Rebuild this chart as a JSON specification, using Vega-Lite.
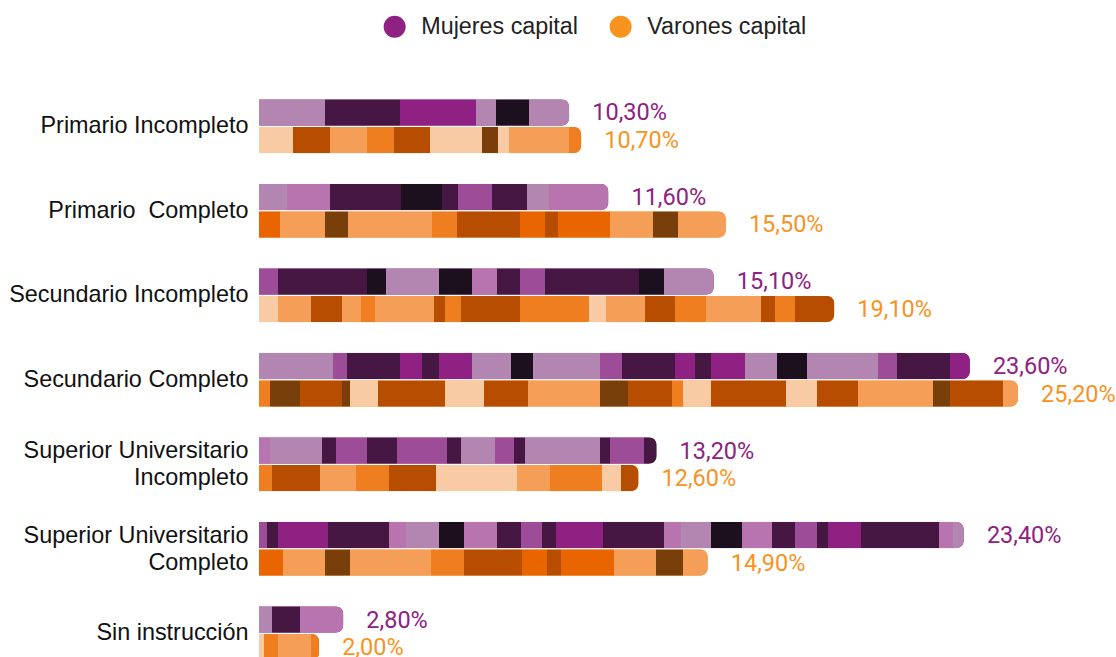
{"$schema":"https://vega.github.io/schema/vega-lite/v6.json","width":857,"height":591.5,"autosize":"none","padding":{"left":259,"top":84,"right":0,"bottom":0},"background":"white","config":{"view":{"stroke":null}},
"data":{"values":[
{"bar":1,"nivel":"Primario Incompleto","serie":"Mujeres capital","valor":10.3,"etiqueta":"10,30%"},
{"bar":2,"nivel":"Primario Incompleto","serie":"Varones capital","valor":10.7,"etiqueta":"10,70%"},
{"bar":3,"nivel":"Primario  Completo","serie":"Mujeres capital","valor":11.6,"etiqueta":"11,60%"},
{"bar":4,"nivel":"Primario  Completo","serie":"Varones capital","valor":15.5,"etiqueta":"15,50%"},
{"bar":5,"nivel":"Secundario Incompleto","serie":"Mujeres capital","valor":15.1,"etiqueta":"15,10%"},
{"bar":6,"nivel":"Secundario Incompleto","serie":"Varones capital","valor":19.1,"etiqueta":"19,10%"},
{"bar":7,"nivel":"Secundario Completo","serie":"Mujeres capital","valor":23.6,"etiqueta":"23,60%"},
{"bar":8,"nivel":"Secundario Completo","serie":"Varones capital","valor":25.2,"etiqueta":"25,20%"},
{"bar":9,"nivel":"Superior Universitario Incompleto","serie":"Mujeres capital","valor":13.2,"etiqueta":"13,20%"},
{"bar":10,"nivel":"Superior Universitario Incompleto","serie":"Varones capital","valor":12.6,"etiqueta":"12,60%"},
{"bar":11,"nivel":"Superior Universitario Completo","serie":"Mujeres capital","valor":23.4,"etiqueta":"23,40%"},
{"bar":12,"nivel":"Superior Universitario Completo","serie":"Varones capital","valor":14.9,"etiqueta":"14,90%"},
{"bar":13,"nivel":"Sin instrucción","serie":"Mujeres capital","valor":2.8,"etiqueta":"2,80%"},
{"bar":14,"nivel":"Sin instrucción","serie":"Varones capital","valor":2.0,"etiqueta":"2,00%"}
]},
"encoding":{
"y":{"field":"nivel","type":"nominal","sort":null,"scale":{"paddingInner":0.361,"paddingOuter":0.18},"axis":{"title":null,"domain":false,"ticks":false,"labelFont":"Liberation Sans","labelFontSize":23.4,"labelColor":"#111111","labelPadding":11,"labelLimit":300,"labelLineHeight":27,"labelOffset":{"condition":{"test":"indexof(datum.value,'Superior')==0","value":-13},"value":0},"labelExpr":"datum.value=='Superior Universitario Incompleto'?['Superior Universitario','Incompleto']:datum.value=='Superior Universitario Completo'?['Superior Universitario','Completo']:datum.value=='Primario  Completo'?'Primario\u00a0 Completo':datum.value"}},
"yOffset":{"field":"serie","type":"nominal","scale":{"paddingInner":0.037,"paddingOuter":0}},
"x":{"field":"valor","type":"quantitative","scale":{"domain":[0,28.45],"nice":false},"axis":null}
},
"layer":[
{"mark":{"type":"bar","cornerRadiusEnd":8},"encoding":{"color":{"field":"serie","type":"nominal","scale":{"domain":["Mujeres capital","Varones capital"],"range":["#8E2181","#F7931E"]},"legend":{"title":null,"orient":"none","legendX":124,"legendY":-69,"direction":"horizontal","symbolType":"circle","symbolSize":484,"symbolStrokeWidth":0,"labelFont":"Liberation Sans","labelFontSize":23.3,"labelColor":"#222222","labelOffset":15,"columnPadding":31,"labelLimit":300}}}},
{"mark":{"type":"bar","cornerRadiusEnd":8},"encoding":{"fill":{"condition":[
{"test":"datum.bar==1","value":{"x1":0,"y1":0,"x2":1,"y2":0,"gradient":"linear","stops":[{"offset":0,"color":"#B286B0"},{"offset":0.212,"color":"#B286B0"},{"offset":0.212,"color":"#451742"},{"offset":0.453,"color":"#451742"},{"offset":0.453,"color":"#8E2181"},{"offset":0.701,"color":"#8E2181"},{"offset":0.701,"color":"#B286B0"},{"offset":0.765,"color":"#B286B0"},{"offset":0.765,"color":"#1C101E"},{"offset":0.871,"color":"#1C101E"},{"offset":0.871,"color":"#B286B0"},{"offset":1,"color":"#B286B0"}]}},
{"test":"datum.bar==2","value":{"x1":0,"y1":0,"x2":1,"y2":0,"gradient":"linear","stops":[{"offset":0,"color":"#F8CBA4"},{"offset":0.105,"color":"#F8CBA4"},{"offset":0.105,"color":"#B64D00"},{"offset":0.22,"color":"#B64D00"},{"offset":0.22,"color":"#F59E58"},{"offset":0.334,"color":"#F59E58"},{"offset":0.334,"color":"#EE7E1F"},{"offset":0.418,"color":"#EE7E1F"},{"offset":0.418,"color":"#B64D00"},{"offset":0.529,"color":"#B64D00"},{"offset":0.529,"color":"#F8CBA4"},{"offset":0.693,"color":"#F8CBA4"},{"offset":0.693,"color":"#783F0A"},{"offset":0.74,"color":"#783F0A"},{"offset":0.74,"color":"#F8CBA4"},{"offset":0.777,"color":"#F8CBA4"},{"offset":0.777,"color":"#F59E58"},{"offset":0.963,"color":"#F59E58"},{"offset":0.963,"color":"#EE7E1F"},{"offset":1,"color":"#EE7E1F"}]}},
{"test":"datum.bar==3","value":{"x1":0,"y1":0,"x2":1,"y2":0,"gradient":"linear","stops":[{"offset":0,"color":"#B286B0"},{"offset":0.08,"color":"#B286B0"},{"offset":0.08,"color":"#B874AF"},{"offset":0.203,"color":"#B874AF"},{"offset":0.203,"color":"#451742"},{"offset":0.406,"color":"#451742"},{"offset":0.406,"color":"#1C101E"},{"offset":0.523,"color":"#1C101E"},{"offset":0.523,"color":"#451742"},{"offset":0.569,"color":"#451742"},{"offset":0.569,"color":"#9D4D97"},{"offset":0.666,"color":"#9D4D97"},{"offset":0.666,"color":"#451742"},{"offset":0.766,"color":"#451742"},{"offset":0.766,"color":"#B286B0"},{"offset":0.831,"color":"#B286B0"},{"offset":0.831,"color":"#B874AF"},{"offset":1,"color":"#B874AF"}]}},
{"test":"datum.bar==4","value":{"x1":0,"y1":0,"x2":1,"y2":0,"gradient":"linear","stops":[{"offset":0,"color":"#E86502"},{"offset":0.045,"color":"#E86502"},{"offset":0.045,"color":"#F59E58"},{"offset":0.141,"color":"#F59E58"},{"offset":0.141,"color":"#783F0A"},{"offset":0.191,"color":"#783F0A"},{"offset":0.191,"color":"#F59E58"},{"offset":0.37,"color":"#F59E58"},{"offset":0.37,"color":"#EE7E1F"},{"offset":0.424,"color":"#EE7E1F"},{"offset":0.424,"color":"#B64D00"},{"offset":0.559,"color":"#B64D00"},{"offset":0.559,"color":"#E86502"},{"offset":0.612,"color":"#E86502"},{"offset":0.612,"color":"#B64D00"},{"offset":0.64,"color":"#B64D00"},{"offset":0.64,"color":"#E86502"},{"offset":0.752,"color":"#E86502"},{"offset":0.752,"color":"#F59E58"},{"offset":0.844,"color":"#F59E58"},{"offset":0.844,"color":"#783F0A"},{"offset":0.897,"color":"#783F0A"},{"offset":0.897,"color":"#F59E58"},{"offset":1,"color":"#F59E58"}]}},
{"test":"datum.bar==5","value":{"x1":0,"y1":0,"x2":1,"y2":0,"gradient":"linear","stops":[{"offset":0,"color":"#9D4D97"},{"offset":0.042,"color":"#9D4D97"},{"offset":0.042,"color":"#451742"},{"offset":0.237,"color":"#451742"},{"offset":0.237,"color":"#1C101E"},{"offset":0.279,"color":"#1C101E"},{"offset":0.279,"color":"#B286B0"},{"offset":0.396,"color":"#B286B0"},{"offset":0.396,"color":"#1C101E"},{"offset":0.468,"color":"#1C101E"},{"offset":0.468,"color":"#B874AF"},{"offset":0.523,"color":"#B874AF"},{"offset":0.523,"color":"#451742"},{"offset":0.574,"color":"#451742"},{"offset":0.574,"color":"#9D4D97"},{"offset":0.629,"color":"#9D4D97"},{"offset":0.629,"color":"#451742"},{"offset":0.835,"color":"#451742"},{"offset":0.835,"color":"#1C101E"},{"offset":0.89,"color":"#1C101E"},{"offset":0.89,"color":"#B286B0"},{"offset":1,"color":"#B286B0"}]}},
{"test":"datum.bar==6","value":{"x1":0,"y1":0,"x2":1,"y2":0,"gradient":"linear","stops":[{"offset":0,"color":"#F8CBA4"},{"offset":0.033,"color":"#F8CBA4"},{"offset":0.033,"color":"#F59E58"},{"offset":0.09,"color":"#F59E58"},{"offset":0.09,"color":"#B64D00"},{"offset":0.144,"color":"#B64D00"},{"offset":0.144,"color":"#F59E58"},{"offset":0.177,"color":"#F59E58"},{"offset":0.177,"color":"#EE7E1F"},{"offset":0.202,"color":"#EE7E1F"},{"offset":0.202,"color":"#F59E58"},{"offset":0.304,"color":"#F59E58"},{"offset":0.304,"color":"#B64D00"},{"offset":0.323,"color":"#B64D00"},{"offset":0.323,"color":"#EE7E1F"},{"offset":0.351,"color":"#EE7E1F"},{"offset":0.351,"color":"#B64D00"},{"offset":0.454,"color":"#B64D00"},{"offset":0.454,"color":"#EE7E1F"},{"offset":0.574,"color":"#EE7E1F"},{"offset":0.574,"color":"#F8CBA4"},{"offset":0.603,"color":"#F8CBA4"},{"offset":0.603,"color":"#F59E58"},{"offset":0.671,"color":"#F59E58"},{"offset":0.671,"color":"#B64D00"},{"offset":0.723,"color":"#B64D00"},{"offset":0.723,"color":"#EE7E1F"},{"offset":0.777,"color":"#EE7E1F"},{"offset":0.777,"color":"#F59E58"},{"offset":0.873,"color":"#F59E58"},{"offset":0.873,"color":"#B64D00"},{"offset":0.897,"color":"#B64D00"},{"offset":0.897,"color":"#EE7E1F"},{"offset":0.932,"color":"#EE7E1F"},{"offset":0.932,"color":"#B64D00"},{"offset":1,"color":"#B64D00"}]}},
{"test":"datum.bar==7","value":{"x1":0,"y1":0,"x2":1,"y2":0,"gradient":"linear","stops":[{"offset":0,"color":"#B286B0"},{"offset":0.104,"color":"#B286B0"},{"offset":0.104,"color":"#9D4D97"},{"offset":0.124,"color":"#9D4D97"},{"offset":0.124,"color":"#451742"},{"offset":0.198,"color":"#451742"},{"offset":0.198,"color":"#8E2181"},{"offset":0.229,"color":"#8E2181"},{"offset":0.229,"color":"#451742"},{"offset":0.253,"color":"#451742"},{"offset":0.253,"color":"#8E2181"},{"offset":0.3,"color":"#8E2181"},{"offset":0.3,"color":"#B286B0"},{"offset":0.354,"color":"#B286B0"},{"offset":0.354,"color":"#1C101E"},{"offset":0.385,"color":"#1C101E"},{"offset":0.385,"color":"#B286B0"},{"offset":0.48,"color":"#B286B0"},{"offset":0.48,"color":"#9D4D97"},{"offset":0.511,"color":"#9D4D97"},{"offset":0.511,"color":"#451742"},{"offset":0.585,"color":"#451742"},{"offset":0.585,"color":"#8E2181"},{"offset":0.613,"color":"#8E2181"},{"offset":0.613,"color":"#451742"},{"offset":0.636,"color":"#451742"},{"offset":0.636,"color":"#8E2181"},{"offset":0.684,"color":"#8E2181"},{"offset":0.684,"color":"#B286B0"},{"offset":0.729,"color":"#B286B0"},{"offset":0.729,"color":"#1C101E"},{"offset":0.771,"color":"#1C101E"},{"offset":0.771,"color":"#B286B0"},{"offset":0.871,"color":"#B286B0"},{"offset":0.871,"color":"#9D4D97"},{"offset":0.897,"color":"#9D4D97"},{"offset":0.897,"color":"#451742"},{"offset":0.972,"color":"#451742"},{"offset":0.972,"color":"#8E2181"},{"offset":1,"color":"#8E2181"}]}},
{"test":"datum.bar==8","value":{"x1":0,"y1":0,"x2":1,"y2":0,"gradient":"linear","stops":[{"offset":0,"color":"#EE7E1F"},{"offset":0.014,"color":"#EE7E1F"},{"offset":0.014,"color":"#783F0A"},{"offset":0.054,"color":"#783F0A"},{"offset":0.054,"color":"#B64D00"},{"offset":0.109,"color":"#B64D00"},{"offset":0.109,"color":"#783F0A"},{"offset":0.12,"color":"#783F0A"},{"offset":0.12,"color":"#F8CBA4"},{"offset":0.157,"color":"#F8CBA4"},{"offset":0.157,"color":"#B64D00"},{"offset":0.245,"color":"#B64D00"},{"offset":0.245,"color":"#F8CBA4"},{"offset":0.296,"color":"#F8CBA4"},{"offset":0.296,"color":"#B64D00"},{"offset":0.354,"color":"#B64D00"},{"offset":0.354,"color":"#F59E58"},{"offset":0.449,"color":"#F59E58"},{"offset":0.449,"color":"#783F0A"},{"offset":0.486,"color":"#783F0A"},{"offset":0.486,"color":"#B64D00"},{"offset":0.544,"color":"#B64D00"},{"offset":0.544,"color":"#EE7E1F"},{"offset":0.559,"color":"#EE7E1F"},{"offset":0.559,"color":"#F8CBA4"},{"offset":0.596,"color":"#F8CBA4"},{"offset":0.596,"color":"#B64D00"},{"offset":0.694,"color":"#B64D00"},{"offset":0.694,"color":"#F8CBA4"},{"offset":0.735,"color":"#F8CBA4"},{"offset":0.735,"color":"#B64D00"},{"offset":0.789,"color":"#B64D00"},{"offset":0.789,"color":"#F59E58"},{"offset":0.888,"color":"#F59E58"},{"offset":0.888,"color":"#783F0A"},{"offset":0.91,"color":"#783F0A"},{"offset":0.91,"color":"#B64D00"},{"offset":0.98,"color":"#B64D00"},{"offset":0.98,"color":"#F59E58"},{"offset":1,"color":"#F59E58"}]}},
{"test":"datum.bar==9","value":{"x1":0,"y1":0,"x2":1,"y2":0,"gradient":"linear","stops":[{"offset":0,"color":"#B874AF"},{"offset":0.028,"color":"#B874AF"},{"offset":0.028,"color":"#B286B0"},{"offset":0.158,"color":"#B286B0"},{"offset":0.158,"color":"#451742"},{"offset":0.193,"color":"#451742"},{"offset":0.193,"color":"#9D4D97"},{"offset":0.271,"color":"#9D4D97"},{"offset":0.271,"color":"#451742"},{"offset":0.347,"color":"#451742"},{"offset":0.347,"color":"#9D4D97"},{"offset":0.472,"color":"#9D4D97"},{"offset":0.472,"color":"#451742"},{"offset":0.508,"color":"#451742"},{"offset":0.508,"color":"#B286B0"},{"offset":0.593,"color":"#B286B0"},{"offset":0.593,"color":"#9D4D97"},{"offset":0.641,"color":"#9D4D97"},{"offset":0.641,"color":"#451742"},{"offset":0.668,"color":"#451742"},{"offset":0.668,"color":"#B286B0"},{"offset":0.857,"color":"#B286B0"},{"offset":0.857,"color":"#451742"},{"offset":0.884,"color":"#451742"},{"offset":0.884,"color":"#9D4D97"},{"offset":0.967,"color":"#9D4D97"},{"offset":0.967,"color":"#451742"},{"offset":1,"color":"#451742"}]}},
{"test":"datum.bar==10","value":{"x1":0,"y1":0,"x2":1,"y2":0,"gradient":"linear","stops":[{"offset":0,"color":"#EE7E1F"},{"offset":0.034,"color":"#EE7E1F"},{"offset":0.034,"color":"#B64D00"},{"offset":0.161,"color":"#B64D00"},{"offset":0.161,"color":"#F59E58"},{"offset":0.255,"color":"#F59E58"},{"offset":0.255,"color":"#EE7E1F"},{"offset":0.342,"color":"#EE7E1F"},{"offset":0.342,"color":"#B64D00"},{"offset":0.466,"color":"#B64D00"},{"offset":0.466,"color":"#F8CBA4"},{"offset":0.679,"color":"#F8CBA4"},{"offset":0.679,"color":"#F59E58"},{"offset":0.766,"color":"#F59E58"},{"offset":0.766,"color":"#EE7E1F"},{"offset":0.905,"color":"#EE7E1F"},{"offset":0.905,"color":"#F8CBA4"},{"offset":0.955,"color":"#F8CBA4"},{"offset":0.955,"color":"#B64D00"},{"offset":1,"color":"#B64D00"}]}},
{"test":"datum.bar==11","value":{"x1":0,"y1":0,"x2":1,"y2":0,"gradient":"linear","stops":[{"offset":0,"color":"#9D4D97"},{"offset":0.011,"color":"#9D4D97"},{"offset":0.011,"color":"#451742"},{"offset":0.027,"color":"#451742"},{"offset":0.027,"color":"#8E2181"},{"offset":0.098,"color":"#8E2181"},{"offset":0.098,"color":"#451742"},{"offset":0.184,"color":"#451742"},{"offset":0.184,"color":"#B874AF"},{"offset":0.209,"color":"#B874AF"},{"offset":0.209,"color":"#B286B0"},{"offset":0.255,"color":"#B286B0"},{"offset":0.255,"color":"#1C101E"},{"offset":0.291,"color":"#1C101E"},{"offset":0.291,"color":"#B874AF"},{"offset":0.338,"color":"#B874AF"},{"offset":0.338,"color":"#451742"},{"offset":0.372,"color":"#451742"},{"offset":0.372,"color":"#9D4D97"},{"offset":0.401,"color":"#9D4D97"},{"offset":0.401,"color":"#451742"},{"offset":0.421,"color":"#451742"},{"offset":0.421,"color":"#8E2181"},{"offset":0.488,"color":"#8E2181"},{"offset":0.488,"color":"#451742"},{"offset":0.574,"color":"#451742"},{"offset":0.574,"color":"#B874AF"},{"offset":0.599,"color":"#B874AF"},{"offset":0.599,"color":"#B286B0"},{"offset":0.641,"color":"#B286B0"},{"offset":0.641,"color":"#1C101E"},{"offset":0.685,"color":"#1C101E"},{"offset":0.685,"color":"#B874AF"},{"offset":0.728,"color":"#B874AF"},{"offset":0.728,"color":"#451742"},{"offset":0.76,"color":"#451742"},{"offset":0.76,"color":"#9D4D97"},{"offset":0.791,"color":"#9D4D97"},{"offset":0.791,"color":"#451742"},{"offset":0.807,"color":"#451742"},{"offset":0.807,"color":"#8E2181"},{"offset":0.854,"color":"#8E2181"},{"offset":0.854,"color":"#451742"},{"offset":0.965,"color":"#451742"},{"offset":0.965,"color":"#B874AF"},{"offset":0.984,"color":"#B874AF"},{"offset":0.984,"color":"#B286B0"},{"offset":1,"color":"#B286B0"}]}},
{"test":"datum.bar==12","value":{"x1":0,"y1":0,"x2":1,"y2":0,"gradient":"linear","stops":[{"offset":0,"color":"#E86502"},{"offset":0.053,"color":"#E86502"},{"offset":0.053,"color":"#F59E58"},{"offset":0.147,"color":"#F59E58"},{"offset":0.147,"color":"#783F0A"},{"offset":0.203,"color":"#783F0A"},{"offset":0.203,"color":"#F59E58"},{"offset":0.383,"color":"#F59E58"},{"offset":0.383,"color":"#EE7E1F"},{"offset":0.457,"color":"#EE7E1F"},{"offset":0.457,"color":"#B64D00"},{"offset":0.586,"color":"#B64D00"},{"offset":0.586,"color":"#E86502"},{"offset":0.641,"color":"#E86502"},{"offset":0.641,"color":"#B64D00"},{"offset":0.673,"color":"#B64D00"},{"offset":0.673,"color":"#E86502"},{"offset":0.791,"color":"#E86502"},{"offset":0.791,"color":"#F59E58"},{"offset":0.884,"color":"#F59E58"},{"offset":0.884,"color":"#783F0A"},{"offset":0.944,"color":"#783F0A"},{"offset":0.944,"color":"#F59E58"},{"offset":1,"color":"#F59E58"}]}},
{"test":"datum.bar==13","value":{"x1":0,"y1":0,"x2":1,"y2":0,"gradient":"linear","stops":[{"offset":0,"color":"#B286B0"},{"offset":0.155,"color":"#B286B0"},{"offset":0.155,"color":"#451742"},{"offset":0.49,"color":"#451742"},{"offset":0.49,"color":"#B874AF"},{"offset":1,"color":"#B874AF"}]}},
{"test":"datum.bar==14","value":{"x1":0,"y1":0,"x2":1,"y2":0,"gradient":"linear","stops":[{"offset":0,"color":"#F8CBA4"},{"offset":0.083,"color":"#F8CBA4"},{"offset":0.083,"color":"#EE7E1F"},{"offset":0.317,"color":"#EE7E1F"},{"offset":0.317,"color":"#F59E58"},{"offset":0.867,"color":"#F59E58"},{"offset":0.867,"color":"#EE7E1F"},{"offset":1,"color":"#EE7E1F"}]}}
],"value":"#888888"}}},
{"mark":{"type":"text","align":"left","baseline":"middle","dx":23,"dy":1,"font":"Roboto","fontSize":23.5,"fontWeight":400},"encoding":{"text":{"field":"etiqueta","type":"nominal"},"color":{"field":"serie","type":"nominal"}}}
]}
